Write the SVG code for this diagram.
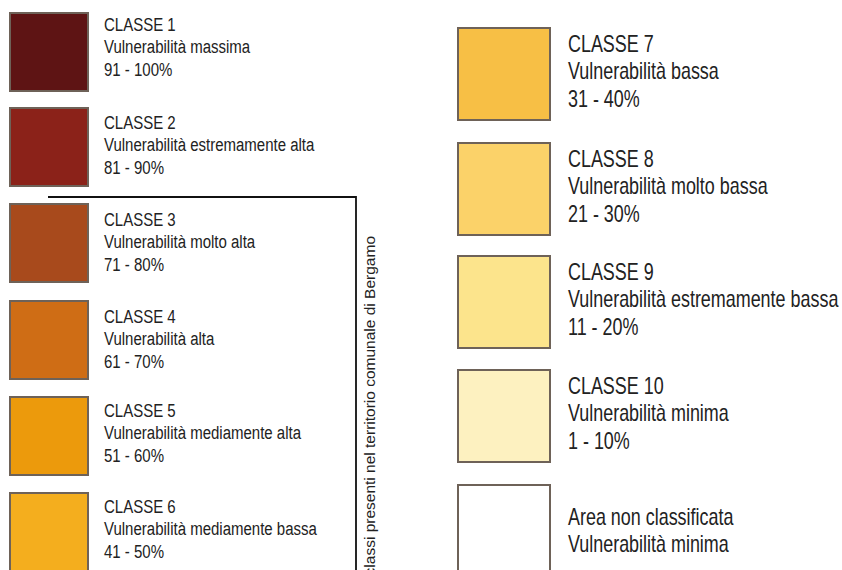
<svg xmlns="http://www.w3.org/2000/svg" width="842" height="570" viewBox="0 0 842 570">
<style>
.sw{stroke:#6e6258;stroke-width:2}
.tl{font-family:"Liberation Sans",Arial,sans-serif;font-size:19px;fill:#222}
.tr{font-family:"Liberation Sans",Arial,sans-serif;font-size:23px;fill:#222}
.rot{font-family:"Liberation Sans",Arial,sans-serif;font-size:15.5px;fill:#222}
</style>
<rect width="842" height="570" fill="#fff"/>
<g id="classe1"><rect class="sw" x="10" y="13" width="78" height="78" fill="#5e1414"/>
<text class="tl" transform="translate(104,31) scale(0.79,1)"><tspan x="0">CLASSE 1</tspan><tspan x="0" dy="22.5">Vulnerabilità massima</tspan><tspan x="0" dy="22.5">91 - 100%</tspan></text></g>
<g id="classe2"><rect class="sw" x="10" y="108" width="78" height="78" fill="#8b2219"/>
<text class="tl" transform="translate(104,129) scale(0.79,1)"><tspan x="0">CLASSE 2</tspan><tspan x="0" dy="22.5">Vulnerabilità estremamente alta</tspan><tspan x="0" dy="22.5">81 - 90%</tspan></text></g>
<g id="classe3"><rect class="sw" x="10" y="204" width="78" height="78" fill="#a84a1c"/>
<text class="tl" transform="translate(104,226) scale(0.79,1)"><tspan x="0">CLASSE 3</tspan><tspan x="0" dy="22.5">Vulnerabilità molto alta</tspan><tspan x="0" dy="22.5">71 - 80%</tspan></text></g>
<g id="classe4"><rect class="sw" x="10" y="301" width="78" height="78" fill="#cf6d15"/>
<text class="tl" transform="translate(104,323) scale(0.79,1)"><tspan x="0">CLASSE 4</tspan><tspan x="0" dy="22.5">Vulnerabilità alta</tspan><tspan x="0" dy="22.5">61 - 70%</tspan></text></g>
<g id="classe5"><rect class="sw" x="10" y="397" width="78" height="78" fill="#ec9a0c"/>
<text class="tl" transform="translate(104,417) scale(0.79,1)"><tspan x="0">CLASSE 5</tspan><tspan x="0" dy="22.5">Vulnerabilità mediamente alta</tspan><tspan x="0" dy="22.5">51 - 60%</tspan></text></g>
<g id="classe6"><rect class="sw" x="10" y="493" width="78" height="78" fill="#f4ae1e"/>
<text class="tl" transform="translate(104,513) scale(0.79,1)"><tspan x="0">CLASSE 6</tspan><tspan x="0" dy="22.5">Vulnerabilità mediamente bassa</tspan><tspan x="0" dy="22.5">41 - 50%</tspan></text></g>
<g id="classe7"><rect class="sw" x="458" y="28" width="92" height="92" fill="#f7bf45"/>
<text class="tr" transform="translate(568,52) scale(0.78,1)"><tspan x="0">CLASSE 7</tspan><tspan x="0" dy="27.5">Vulnerabilità bassa</tspan><tspan x="0" dy="27.5">31 - 40%</tspan></text></g>
<g id="classe8"><rect class="sw" x="458" y="143" width="92" height="92" fill="#fbd269"/>
<text class="tr" transform="translate(568,167) scale(0.78,1)"><tspan x="0">CLASSE 8</tspan><tspan x="0" dy="27.5">Vulnerabilità molto bassa</tspan><tspan x="0" dy="27.5">21 - 30%</tspan></text></g>
<g id="classe9"><rect class="sw" x="458" y="256" width="92" height="92" fill="#fce48c"/>
<text class="tr" transform="translate(568,280) scale(0.78,1)"><tspan x="0">CLASSE 9</tspan><tspan x="0" dy="27.5">Vulnerabilità estremamente bassa</tspan><tspan x="0" dy="27.5">11 - 20%</tspan></text></g>
<g id="classe10"><rect class="sw" x="458" y="370" width="92" height="92" fill="#fdf1c0"/>
<text class="tr" transform="translate(568,394) scale(0.78,1)"><tspan x="0">CLASSE 10</tspan><tspan x="0" dy="27.5">Vulnerabilità minima</tspan><tspan x="0" dy="27.5">1 - 10%</tspan></text></g>
<g id="nonclassificata"><rect class="sw" x="458" y="485" width="92" height="92" fill="#fff"/>
<text class="tr" transform="translate(568,525) scale(0.78,1)"><tspan x="0">Area non classificata</tspan><tspan x="0" dy="27">Vulnerabilità minima</tspan></text></g>
<g id="connectors"><path d="M48,197 H356 V572" fill="none" stroke="#111" stroke-width="1.8"/></g>
<g id="bracket-label"><text class="rot" transform="translate(375,236) rotate(-90)" text-anchor="end">classi presenti nel territorio comunale di Bergamo</text></g>
</svg>
